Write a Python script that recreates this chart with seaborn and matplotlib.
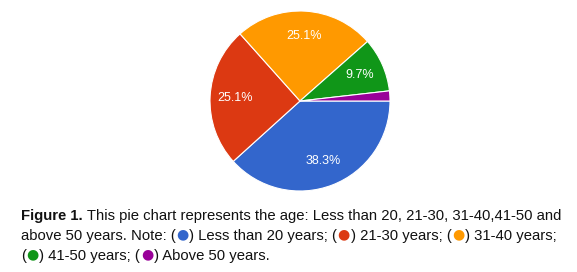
import matplotlib
matplotlib.use("Agg")
import matplotlib.pyplot as plt
import seaborn as sns

categories = ["Less than 20 years", "21-30 years", "31-40 years", "41-50 years", "Above 50 years"]
shares = [38.3, 25.1, 25.1, 9.7, 1.8]
colors_hex = ["#3366CC", "#DC3912", "#FF9900", "#109618", "#990099"]

sns.set_theme(style="white")
plt.rcParams['font.family'] = ['Liberation Sans', 'DejaVu Sans']
palette = sns.color_palette(colors_hex)

W, H = 577, 272
fig = plt.figure(figsize=(W / 100, H / 100), dpi=100)
fig.patch.set_facecolor("white")

cx, cy, r = 300, 101, 90
ax = fig.add_axes([(cx - r) / W, (H - cy - r) / H, 2 * r / W, 2 * r / H])


def fmt(p):
    return f"{p:.1f}%" if p >= 5 else ""


wedges, texts, autotexts = ax.pie(
    shares, colors=palette, startangle=0, counterclock=False,
    autopct=fmt, pctdistance=0.72,
    wedgeprops=dict(edgecolor="white", linewidth=0.8),
    textprops=dict(color="white", fontsize=9))
ax.set_xlim(-1, 1)
ax.set_ylim(-1, 1)
ax.set_aspect("equal")
ax.axis("off")

# caption with inline coloured markers
fs = 10.7
renderer = fig.canvas.get_renderer()
ink = "#111111"
lines = [
    [("Figure 1.", "bold", ink), (" This pie chart represents the age: Less than 20, 21-30, 31-40,41-50 and", "normal", ink)],
    [("above 50 years. Note: (", "normal", ink), ("●", "normal", colors_hex[0]), (") " + categories[0] + "; (", "normal", ink),
     ("●", "normal", colors_hex[1]), (") " + categories[1] + "; (", "normal", ink),
     ("●", "normal", colors_hex[2]), (") " + categories[2] + ";", "normal", ink)],
    [("(", "normal", ink), ("●", "normal", colors_hex[3]), (") " + categories[3] + "; (", "normal", ink),
     ("●", "normal", colors_hex[4]), (") " + categories[4] + ".", "normal", ink)],
]
baselines = [220, 240, 260]
x0 = 21
for runs, yb in zip(lines, baselines):
    x = x0
    for s, wt, col in runs:
        is_dot = s == "●"
        t = fig.text((x + (0.5 if is_dot else 0)) / W, 1 - (yb - (1.8 if is_dot else 0)) / H, s,
                     fontsize=fs * 0.95 if is_dot else fs,
                     fontweight=wt, color=col, va="baseline", ha="left",
                     family=['DejaVu Sans'] if is_dot else ['Liberation Sans', 'DejaVu Sans'])
        bb = t.get_window_extent(renderer)
        x += bb.width + (1 if is_dot else 0)
    print(yb, x)

fig.savefig("out.png", dpi=100, facecolor="white")
